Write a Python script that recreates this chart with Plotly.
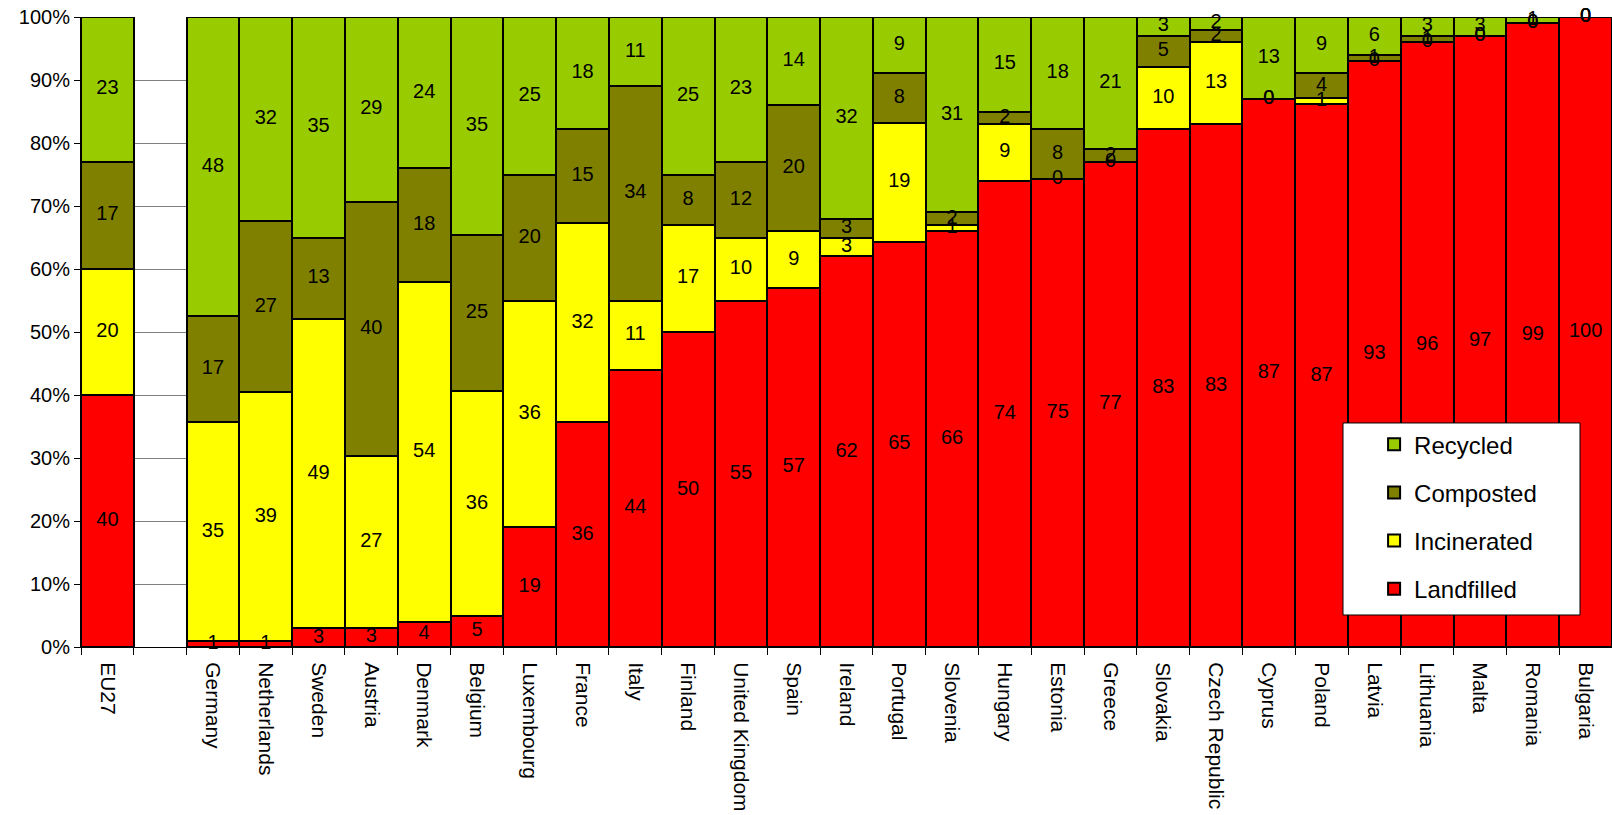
import plotly.graph_objects as go

categories = ["EU27", " ", "Germany", "Netherlands", "Sweden", "Austria", "Denmark", "Belgium",
              "Luxembourg", "France", "Italy", "Finland", "United Kingdom", "Spain", "Ireland",
              "Portugal", "Slovenia", "Hungary", "Estonia", "Greece", "Slovakia", "Czech Republic",
              "Cyprus", "Poland", "Latvia", "Lithuania", "Malta", "Romania", "Bulgaria"]

landfilled = [40, None, 1, 1, 3, 3, 4, 5, 19, 36, 44, 50, 55, 57, 62, 65, 66, 74, 75, 77, 83, 83, 87, 87, 93, 96, 97, 99, 100]
incinerated = [20, None, 35, 39, 49, 27, 54, 36, 36, 32, 11, 17, 10, 9, 3, 19, 1, 9, 0, 0, 10, 13, 0, 1, 0, 0, 0, 0, 0]
composted = [17, None, 17, 27, 13, 40, 18, 25, 20, 15, 34, 8, 12, 20, 3, 8, 2, 2, 8, 2, 5, 2, 0, 4, 1, 1, 0, 0, 0]
recycled = [23, None, 48, 32, 35, 29, 24, 35, 25, 18, 11, 25, 23, 14, 32, 9, 31, 15, 18, 21, 3, 2, 13, 9, 6, 3, 3, 1, 0]

y_ticks = [0, 10, 20, 30, 40, 50, 60, 70, 80, 90, 100]
y_tick_text = [f"{t}%" for t in y_ticks]

series = [("Landfilled", landfilled, "#FF0000"),
          ("Incinerated", incinerated, "#FFFF00"),
          ("Composted", composted, "#808000"),
          ("Recycled", recycled, "#99CC00")]

FONT = "Liberation Sans, Arial, sans-serif"

fig = go.Figure()
for i, (name, vals, col) in enumerate(series):
    fig.add_trace(go.Bar(
        x=categories, y=vals, name=name, legendgroup=name,
        legendrank=len(series) - i,
        marker=dict(color=col, line=dict(color="black", width=2)),
        hoverinfo="x+y+name",
    ))

# label positions: centre of each normalised segment
totals = []
for j in range(len(categories)):
    vs = [s[1][j] for s in series]
    totals.append(None if vs[0] is None else sum(vs))

cum = [0.0] * len(categories)
for name, vals, col in series:
    xs, ys, ts = [], [], []
    for j, v in enumerate(vals):
        if v is None:
            continue
        h = v / totals[j] * 100
        xs.append(categories[j])
        ys.append(cum[j] + h / 2)
        ts.append(str(v))
        cum[j] += h
    fig.add_trace(go.Scatter(
        x=xs, y=ys, text=ts, mode="text", showlegend=False, hoverinfo="skip",
        textfont=dict(family=FONT, size=20, color="black"), cliponaxis=False,
    ))

# legend frame (Excel-style, with generous padding)
fig.add_shape(type="rect", xref="paper", yref="paper",
              x0=0.8243, x1=0.9791, y0=0.0508, y1=0.3556,
              fillcolor="white", line=dict(color="black", width=1), layer="above")

fig.update_layout(
    barmode="stack", barnorm="percent", bargap=0,
    width=1612, height=815,
    margin=dict(l=81, r=0, t=17, b=168),
    paper_bgcolor="white", plot_bgcolor="white",
    font=dict(family=FONT, size=20, color="black"),
    legend=dict(
        x=0.8446, y=0.357, xanchor="left", yanchor="top",
        bgcolor="rgba(0,0,0,0)", borderwidth=0,
        font=dict(size=24, family=FONT), traceorder="grouped",
        tracegroupgap=14, itemwidth=30,
    ),
    showlegend=True,
)
fig.update_xaxes(
    type="category", categoryorder="array", categoryarray=categories,
    range=[-0.5, len(categories) - 0.5],
    tickangle=90, showline=True, linecolor="black", linewidth=1,
    ticks="outside", tickson="boundaries", ticklen=7, tickcolor="black",
    ticklabelstandoff=10,
    tickfont=dict(size=21, family=FONT), showgrid=False,
)
fig.update_yaxes(
    range=[0, 100], tickmode="array", tickvals=y_ticks, ticktext=y_tick_text,
    showline=True, linecolor="black", linewidth=1,
    ticks="outside", ticklen=6, tickcolor="black",
    showgrid=True, gridcolor="#808080", gridwidth=1,
    tickfont=dict(size=20, family=FONT), zeroline=False,
)

fig.write_html("out.html")
